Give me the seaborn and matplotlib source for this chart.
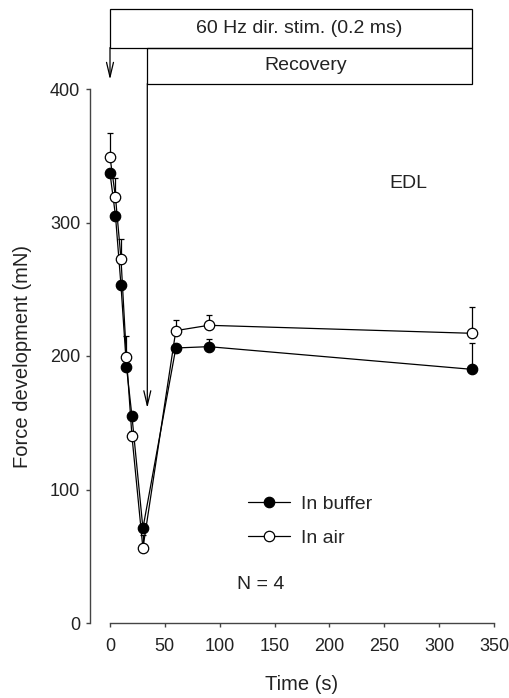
import numpy as np
import matplotlib
matplotlib.use("Agg")
import matplotlib.pyplot as plt
from matplotlib.patches import Rectangle
import seaborn as sns

# values
time = [0, 5, 10, 15, 20, 30, 60, 90, 330]
buffer_force = [337, 305, 253, 192, 155, 71, 206, 207, 190]
buffer_err = [3, 3, 3, 3, 3, 3, 3, 5.5, 19.5]
air_force = [349, 319, 273, 199, 140, 56, 219, 223, 217]
air_err = [18, 14, 15, 16, 4, 10, 8, 8, 19.5]

x_ticks = [0, 50, 100, 150, 200, 250, 300, 350]
y_ticks = [0, 100, 200, 300, 400]

stim_label = "60 Hz dir. stim. (0.2 ms)"
recovery_label = "Recovery"
stim_end = 330
recovery_start = 34

sns.set_style("ticks")
plt.rcParams['font.family'] = ['Liberation Sans', 'DejaVu Sans']
plt.rcParams['font.size'] = 14

W, H = 509, 698
fig = plt.figure(figsize=(W / 100, H / 100), dpi=100)
ax = fig.add_axes([110 / W, 1 - 623 / H, 384 / W, 534 / H])

txt = '#222222'

# error bars (upper only)
ax.errorbar(time, buffer_force, yerr=[np.zeros(len(time)), buffer_err], fmt='none',
            ecolor='black', elinewidth=0.9, capsize=2.4, capthick=0.9, clip_on=False, zorder=2)
sns.lineplot(x=time, y=buffer_force, color='black', lw=0.9, marker='o', markersize=7.5,
             markerfacecolor='black', markeredgecolor='black', markeredgewidth=0.9,
             label='In buffer', clip_on=False, ax=ax, zorder=3)
ax.errorbar(time, air_force, yerr=[np.zeros(len(time)), air_err], fmt='none',
            ecolor='black', elinewidth=0.9, capsize=2.4, capthick=0.9, clip_on=False, zorder=4)
sns.lineplot(x=time, y=air_force, color='black', lw=0.9, marker='o', markersize=7.5,
             markerfacecolor='white', markeredgecolor='black', markeredgewidth=0.9,
             label='In air', clip_on=False, ax=ax, zorder=5)

ax.set_xlim(0, 350)
ax.set_ylim(0, 400)
ax.set_xticks(x_ticks)
ax.set_yticks(y_ticks)

for s in ['top', 'right']:
    ax.spines[s].set_visible(False)
ax.spines['left'].set_position(('outward', 14.4))
ax.spines['left'].set_bounds(0, 400)
ax.spines['bottom'].set_bounds(0, 350)
for s in ['left', 'bottom']:
    ax.spines[s].set_color('#444444')
    ax.spines[s].set_linewidth(1.0)
ax.tick_params(axis='both', colors='#444444', labelcolor=txt, labelsize=13,
               length=3, width=1)
ax.tick_params(axis='x', pad=8)
ax.tick_params(axis='y', pad=4)

ax.set_xlabel("Time (s)", fontsize=14.5, labelpad=14, color=txt)
ax.set_ylabel("Force development (mN)", fontsize=14.5, labelpad=13, color=txt)

# stimulation / recovery boxes above the plot
ax.add_patch(Rectangle((0, 431), stim_end, 29, fill=False, edgecolor='black',
                       lw=0.9, clip_on=False))
ax.add_patch(Rectangle((recovery_start, 404), stim_end - recovery_start, 27, fill=False,
                       edgecolor='black', lw=0.9, clip_on=False))
ax.text(172, 445, stim_label, ha='center', va='center', fontsize=14, color=txt)
ax.text(178, 417.5, recovery_label, ha='center', va='center', fontsize=14, color=txt)

arrow = dict(arrowstyle='->,head_length=1.05,head_width=0.25', color='black', lw=0.9,
             mutation_scale=10, shrinkA=0, shrinkB=0)
ax.annotate('', xy=(0, 407), xytext=(0, 431), arrowprops=arrow, annotation_clip=False)
ax.annotate('', xy=(recovery_start, 161), xytext=(recovery_start, 404), arrowprops=arrow,
            annotation_clip=False)

ax.text(272, 329, "EDL", ha='center', va='center', fontsize=14, color=txt)
ax.text(137, 29, "N = 4", ha='center', va='center', fontsize=14, color=txt)

ax.legend(loc='upper left', bbox_to_anchor=(248 / W, 1 - 495 / H),
          bbox_transform=fig.transFigure, frameon=False, fontsize=14,
          handlelength=2.15, handletextpad=0.57, labelspacing=0.85,
          borderpad=0, borderaxespad=0)

fig.savefig("out.png", dpi=100)
